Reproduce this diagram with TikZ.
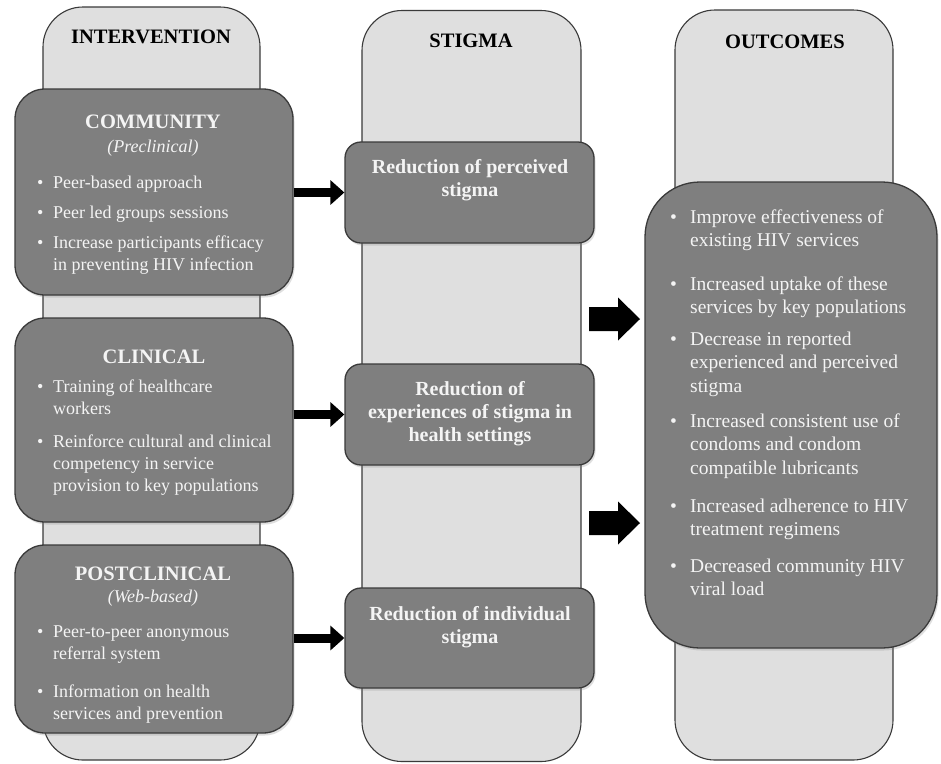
\documentclass[tikz,border=0pt]{standalone}
\usepackage{fontspec}
\setmainfont{Liberation Serif}
\usetikzlibrary{arrows.meta,shadows}
\definecolor{colfill}{HTML}{DFDFDF}
\definecolor{boxfill}{HTML}{7F7F7F}
\definecolor{edgec}{HTML}{3A3A3A}
\definecolor{wtxt}{HTML}{F4F4F4}
\tikzset{
  column/.style={draw=edgec, line width=1.1pt, fill=colfill, rounded corners=40pt, inner sep=0pt},
  bigbox/.style={draw=edgec, line width=1.3pt, fill=boxfill, rounded corners=30pt, inner sep=0pt,
     drop shadow={shadow xshift=1.5pt, shadow yshift=-2.5pt, opacity=0.25}},
  stbox/.style={bigbox, rounded corners=16pt},
  outbox/.style={bigbox, rounded corners=55pt},
  head/.style={anchor=base, inner sep=0pt, text=black, font=\bfseries\fontsize{20.5}{24}\selectfont},
  bhead/.style={anchor=base, inner sep=0pt, text=wtxt, font=\bfseries\fontsize{20.5}{24}\selectfont},
  bsub/.style={anchor=base, inner sep=0pt, text=wtxt, font=\itshape\fontsize{18}{22}\selectfont},
  itxt/.style={anchor=base west, inner sep=0pt, text=wtxt, font=\fontsize{18}{22}\selectfont},
  otxt/.style={anchor=base west, inner sep=0pt, text=wtxt, font=\fontsize{19.5}{23.5}\selectfont},
  sttxt/.style={anchor=base, inner sep=0pt, text=wtxt, font=\bfseries\fontsize{20}{23}\selectfont},
  conn/.style={line width=9pt, black, -{Triangle[length=14pt,width=24pt]}},
  blockarrow/.style={fill=black}
}
\newcommand{\ib}[1]{\begin{tabular}[t]{@{}p{16pt}@{}l@{}}\textbullet & #1\end{tabular}}
\newcommand{\ob}[1]{\begin{tabular}[t]{@{}p{20pt}@{}l@{}}\textbullet & #1\end{tabular}}
\newcommand{\ctr}[1]{\begin{tabular}[t]{@{}c@{}}#1\end{tabular}}
\begin{document}
\begin{tikzpicture}[x=1pt,y=-1pt]
\useasboundingbox[fill=white] (0,0) rectangle (941,763);
% columns
\node[column, minimum width=217pt, minimum height=753pt] (c1) at (151.5,383.5) {};
\node[column, minimum width=219pt, minimum height=751pt] (c2) at (471.5,386) {};
\node[column, minimum width=218pt, minimum height=750pt] (c3) at (784,385) {};
\node[head] (h1) at (151,43) {INTERVENTION};
\node[head] (h2) at (471,47) {STIGMA};
\node[head] (h3) at (785,48) {OUTCOMES};
% intervention boxes
\node[bigbox, minimum width=278pt, minimum height=206pt] (comm) at (154,192) {};
\node[bigbox, minimum width=278pt, minimum height=204pt] (clin) at (154,420) {};
\node[bigbox, minimum width=278pt, minimum height=188pt] (post) at (154,639) {};
% stigma boxes
\node[stbox, minimum width=249pt, minimum height=101pt] (st1) at (469.5,192.5) {};
\node[stbox, minimum width=249pt, minimum height=101pt] (st2) at (469.5,414.5) {};
\node[stbox, minimum width=249pt, minimum height=100pt] (st3) at (469.5,638) {};
% outcomes box
\node[outbox, minimum width=292pt, minimum height=466pt] (out) at (791,415) {};
% intervention texts
\node[bhead] (commh) at (153,128) {COMMUNITY};
\node[bsub] (comms) at (153,152) {(Preclinical)};
\node[itxt] (cb1) at (37,188) {\ib{Peer-based approach}};
\node[itxt] (cb2) at (37,218) {\ib{Peer led groups sessions}};
\node[itxt] (cb3) at (37,248) {\ib{Increase participants efficacy\\ & in preventing HIV infection}};
\node[bhead] (clinh) at (154,363) {CLINICAL};
\node[itxt] (kb1) at (37,392) {\ib{Training of healthcare\\ & workers}};
\node[itxt] (kb2) at (37,447) {\ib{Reinforce cultural and clinical\\ & competency in service\\ & provision to key populations}};
\node[bhead] (posth) at (153,580) {POSTCLINICAL};
\node[bsub] (posts) at (153,602) {(Web-based)};
\node[itxt] (pb1) at (37,637) {\ib{Peer-to-peer anonymous\\ & referral system}};
\node[itxt] (pb2) at (37,697) {\ib{Information on health\\ & services and prevention}};
% stigma texts
\node[sttxt] (s1t) at (470,173) {\ctr{Reduction of perceived\\ stigma}};
\node[sttxt] (s2t) at (470,395) {\ctr{Reduction of\\ experiences of stigma in\\ health settings}};
\node[sttxt] (s3t) at (470,620) {\ctr{Reduction of individual\\ stigma}};
% outcomes texts
\node[otxt] (o1) at (670,223) {\ob{Improve effectiveness of\\ & existing HIV services}};
\node[otxt] (o2) at (670,290) {\ob{Increased uptake of these\\ & services by key populations}};
\node[otxt] (o3) at (670,345) {\ob{Decrease in reported\\ & experienced and perceived\\ & stigma}};
\node[otxt] (o4) at (670,427) {\ob{Increased consistent use of\\ & condoms and condom\\ & compatible lubricants}};
\node[otxt] (o5) at (670,512) {\ob{Increased adherence to HIV\\ & treatment regimens}};
\node[otxt] (o6) at (670,572) {\ob{Decreased community HIV\\ & viral load}};
% connectors
\draw[conn] (st1.west -| comm.east) -- (st1.west);
\draw[conn] (st2.west -| clin.east) -- (st2.west);
\draw[conn] (st3.west -| post.east) -- (st3.west);
% block arrows
\fill[blockarrow] (589,307) -- (618,307) -- (618,297.5) -- (640,319) -- (618,340.5) -- (618,331) -- (589,331) -- cycle;
\fill[blockarrow] (589,511) -- (618,511) -- (618,501.5) -- (640,523) -- (618,544.5) -- (618,535) -- (589,535) -- cycle;
\end{tikzpicture}
\end{document}
